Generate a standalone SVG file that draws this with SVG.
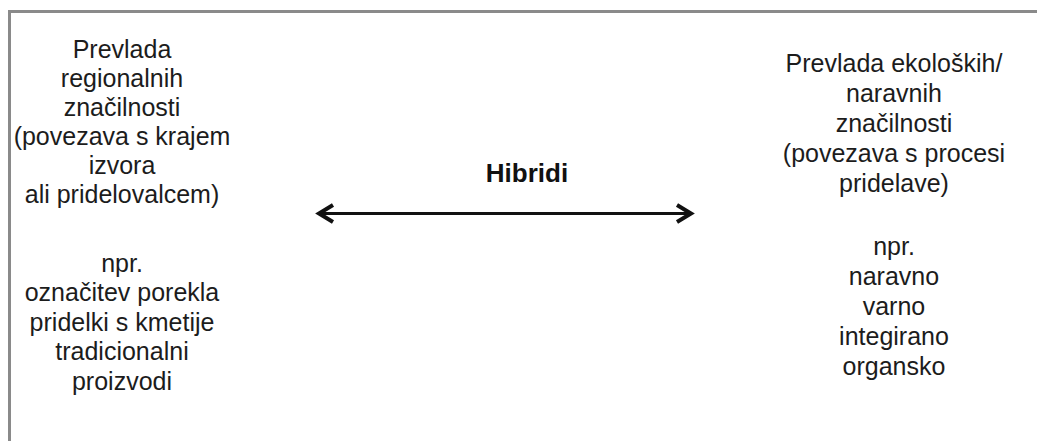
<svg xmlns="http://www.w3.org/2000/svg" width="1037" height="443" viewBox="0 0 1037 443">
  <style>
    .frame { fill: none; stroke: #8a8a8a; stroke-width: 3; }
    .body { font-family: "Liberation Sans", Arial, sans-serif; font-size: 25px; fill: #1c1c1c; text-anchor: middle; }
    .title { font-family: "Liberation Sans", Arial, sans-serif; font-size: 26px; font-weight: bold; fill: #111; text-anchor: middle; }
    .shaft { stroke: #111; stroke-width: 3; fill: none; }
    .head { stroke: #111; stroke-width: 4; fill: none; stroke-linecap: butt; stroke-linejoin: miter; }
  </style>
  <defs>
    <clipPath id="leftClip">
      <rect x="10" y="12" width="260" height="385"/>
    </clipPath>
  </defs>
  <rect width="1037" height="443" fill="#ffffff"/>

  <!-- open frame: top and left edges -->
  <g id="frame">
    <path class="frame" d="M9.5 441 V11.5 H1037"/>
  </g>

  <g id="regional" clip-path="url(#leftClip)">
    <text class="body" x="122" y="58">Prevlada</text>
    <text class="body" x="122" y="87">regionalnih</text>
    <text class="body" x="122" y="116">značilnosti</text>
    <text class="body" x="122" y="145">(povezava s krajem</text>
    <text class="body" x="122" y="174">izvora</text>
    <text class="body" x="122" y="203">ali pridelovalcem)</text>
    <text class="body" x="122" y="272">npr.</text>
    <text class="body" x="122" y="301">označitev porekla</text>
    <text class="body" x="122" y="331">pridelki s kmetije</text>
    <text class="body" x="122" y="360">tradicionalni</text>
    <text class="body" x="122" y="390">proizvodi</text>
  </g>

  <g id="hybrids">
    <text class="title" x="527" y="182">Hibridi</text>
  </g>

  <g id="ecological">
    <text class="body" x="894" y="72">Prevlada ekoloških/</text>
    <text class="body" x="894" y="102">naravnih</text>
    <text class="body" x="894" y="132">značilnosti</text>
    <text class="body" x="894" y="162">(povezava s procesi</text>
    <text class="body" x="894" y="192">pridelave)</text>
    <text class="body" x="894" y="255">npr.</text>
    <text class="body" x="894" y="285">naravno</text>
    <text class="body" x="894" y="315">varno</text>
    <text class="body" x="894" y="345">integirano</text>
    <text class="body" x="894" y="375">organsko</text>
  </g>

  <!-- double-headed connector between the two poles -->
  <g id="connectors">
    <line class="shaft" x1="319" y1="213.5" x2="691" y2="213.5"/>
    <polyline class="head" points="333,205 319,213.5 333,222"/>
    <polyline class="head" points="677,205 691,213.5 677,222"/>
  </g>
</svg>
